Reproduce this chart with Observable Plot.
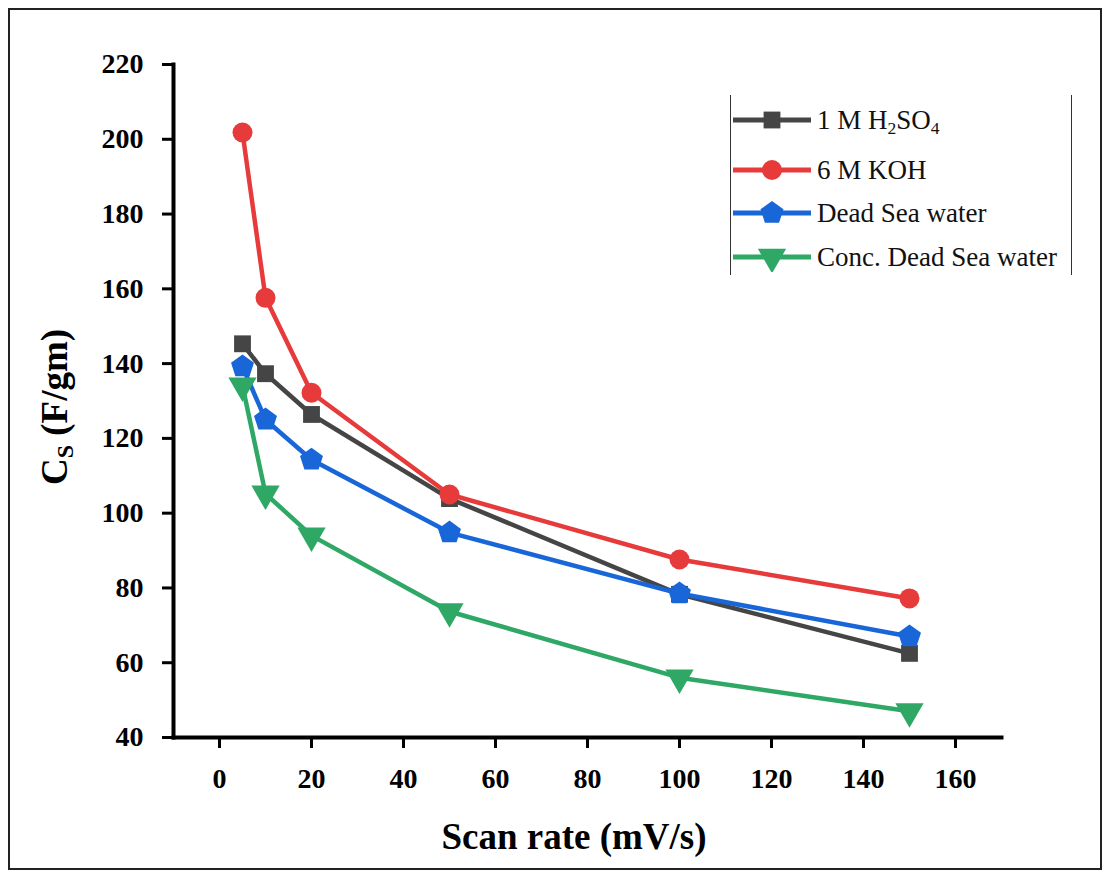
<!DOCTYPE html>
<html><head><meta charset="utf-8">
<script src="https://cdn.jsdelivr.net/npm/d3@7"></script>
<script src="https://cdn.jsdelivr.net/npm/@observablehq/plot@0.6"></script>
<style>
body{margin:0;background:#fff;}
#wrap{position:relative;width:1109px;height:876px;overflow:hidden;}
#frame{position:absolute;left:8px;top:8px;width:1090px;height:858px;border:2px solid #222;pointer-events:none;}
#legend{position:absolute;left:730px;top:95px;width:340px;height:180px;border-left:1.5px solid #333;border-right:1.5px solid #333;font-family:"Liberation Serif","Times New Roman",serif;font-size:27px;color:#111;}
.row{position:absolute;left:0;height:30px;display:flex;align-items:center;white-space:nowrap;}
.row svg{flex:none;margin-right:4px;}
sub{font-size:0.65em;vertical-align:-0.3em;line-height:0;}
</style></head>
<body><div id="wrap"><div id="frame"></div><div id="legend"></div></div>
<script>
const scanRates = [5, 10, 20, 50, 100, 150];
const h2so4 = [145.3, 137.3, 126.4, 103.9, 78.3, 62.5];
const koh = [201.8, 157.6, 132.2, 105.0, 87.6, 77.2];
const deadSea = [139.2, 125.0, 114.3, 94.8, 78.5, 67.0];
const concDeadSea = [134.1, 105.2, 94.0, 73.7, 56.0, 47.0];
const seriesNames = ["1 M H2SO4", "6 M KOH", "Dead Sea water", "Conc. Dead Sea water"];
const seriesLabelsHtml = ["1 M H<sub>2</sub>SO<sub>4</sub>", "6 M KOH", "Dead Sea water", "Conc. Dead Sea water"];
const seriesColors = ["#454545", "#e63a3b", "#1866d8", "#2fa866"];
const xTicks = [0, 20, 40, 60, 80, 100, 120, 140, 160];
const yTicks = [40, 60, 80, 100, 120, 140, 160, 180, 200, 220];

const pentagon = {draw(ctx, size) {
  const r = Math.sqrt(size / (2.5 * Math.sin(2 * Math.PI / 5)));
  for (let i = 0; i < 5; i++) {
    const a = -Math.PI / 2 + i * 2 * Math.PI / 5;
    const px = r * Math.cos(a), py = r * Math.sin(a);
    if (i === 0) ctx.moveTo(px, py); else ctx.lineTo(px, py);
  }
  ctx.closePath();
}};
const symbols = [d3.symbolSquare, d3.symbolCircle, pentagon, d3.symbolTriangle];
const rotations = [0, 0, 0, 180];
const radii = [9.5, 10, 10.5, 10.5];

const allValues = [h2so4, koh, deadSea, concDeadSea];
const rows = [];
allValues.forEach((vals, s) => vals.forEach((v, i) => rows.push({series: seriesNames[s], idx: s, x: scanRates[i], y: v})));

const serif = "'Liberation Serif', 'Times New Roman', serif";
const marks = [
  Plot.frame({anchor: "left", strokeWidth: 4, stroke: "#000"}),
  Plot.frame({anchor: "bottom", strokeWidth: 4, stroke: "#000"}),
  Plot.axisX({ticks: xTicks, tickSize: 11, tickPadding: 20, strokeWidth: 3, label: null, fontSize: 28, fontWeight: "bold"}),
  Plot.axisY({ticks: yTicks, tickSize: 11, tickPadding: 19, strokeWidth: 3, label: null, fontSize: 28, fontWeight: "bold"})
];
seriesNames.forEach((name, s) => {
  const d = rows.filter(r => r.idx === s);
  marks.push(Plot.line(d, {x: "x", y: "y", stroke: seriesColors[s], strokeWidth: 4.5}));
});
seriesNames.forEach((name, s) => {
  const d = rows.filter(r => r.idx === s);
  marks.push(Plot.dot(d, {x: "x", y: "y", fill: seriesColors[s], stroke: "none", symbol: symbols[s], r: radii[s], rotate: rotations[s]}));
});

const chart = Plot.plot({
  width: 1109, height: 876,
  marginLeft: 173, marginRight: 108, marginTop: 64, marginBottom: 139,
  x: {domain: [-10, 170]},
  y: {domain: [40, 220]},
  style: {fontFamily: serif, fontWeight: "bold", background: "transparent", color: "#000"},
  marks
});
chart.style.position = "absolute";
chart.style.left = "0px";
chart.style.top = "0px";
document.getElementById("wrap").insertBefore(chart, document.getElementById("frame"));

const svg = d3.select(chart);
svg.append("text")
  .attr("x", 574).attr("y", 849)
  .attr("text-anchor", "middle")
  .attr("font-family", serif).attr("font-weight", "bold").attr("font-size", 37)
  .attr("fill", "#000")
  .text("Scan rate (mV/s)");
const yt = svg.append("text")
  .attr("transform", "translate(67,407) rotate(-90)")
  .attr("text-anchor", "middle")
  .attr("font-family", serif).attr("font-weight", "bold").attr("font-size", 37)
  .attr("fill", "#000");
yt.append("tspan").text("C");
yt.append("tspan").attr("font-size", 24).attr("dy", 6).text("S");
yt.append("tspan").attr("dy", -6).text(" (F/gm)");

// legend
const legend = d3.select("#legend");
const rowTops = [10, 60, 103, 147];
seriesNames.forEach((name, s) => {
  const row = legend.append("div").attr("class", "row").style("top", rowTops[s] + "px");
  const sw = row.append("svg").attr("width", 82).attr("height", 30);
  sw.append("line").attr("x1", 2).attr("x2", 80).attr("y1", 15).attr("y2", 15)
    .attr("stroke", seriesColors[s]).attr("stroke-width", 5);
  sw.append("path").attr("d", d3.symbol(symbols[s], Math.PI * radii[s] * radii[s])())
    .attr("transform", `translate(41,15) rotate(${rotations[s]})`)
    .attr("fill", seriesColors[s]);
  row.append("span").html(seriesLabelsHtml[s]);
});
</script>
</body></html>
